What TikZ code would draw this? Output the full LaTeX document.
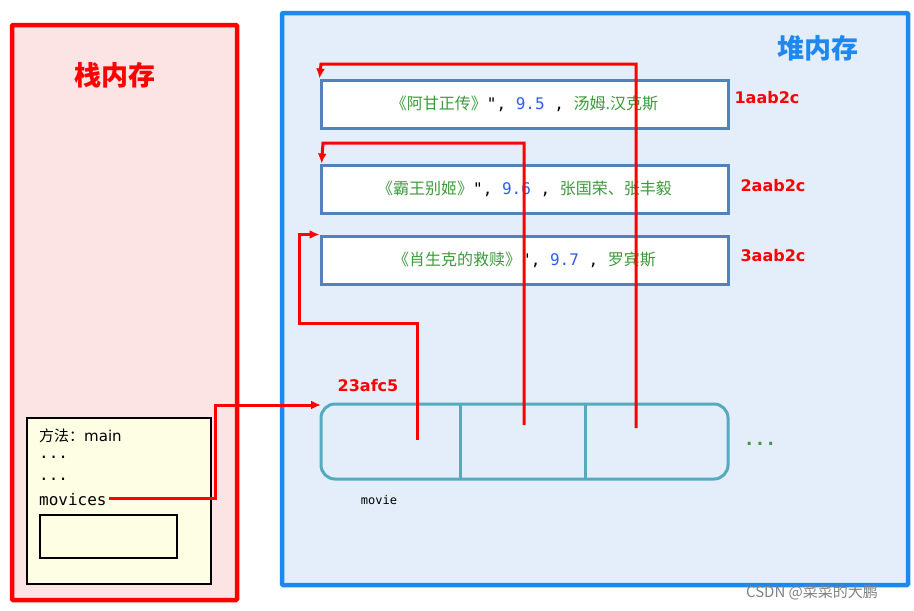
\documentclass[tikz,border=0pt]{standalone}
\usepackage{fontspec}
\setmainfont{DejaVu Sans}
\setmonofont{DejaVu Sans Mono}
\newfontfamily\cjk{Noto Sans CJK SC}
\usepackage{xcolor}
\usetikzlibrary{arrows.meta, positioning}
\definecolor{stackred}{HTML}{FF0000}
\definecolor{stackfill}{HTML}{FDE4E4}
\definecolor{heapblue}{HTML}{1E88F0}
\definecolor{heapfill}{HTML}{E3EEFA}
\definecolor{objblue}{HTML}{5282BC}
\definecolor{arrteal}{HTML}{55AAC0}
\definecolor{txtgreen}{HTML}{3C9A3C}
\definecolor{numblue}{HTML}{2F5CF0}
\definecolor{framefill}{HTML}{FEFEE4}
\tikzset{
    objbox/.style={draw=objblue, line width=3pt, fill=white, minimum width=407pt, minimum height=48pt, inner sep=0pt},
    addr/.style={text=stackred, font=\fontsize{16}{18}\selectfont\bfseries},
    ref/.style={draw=stackred, line width=3pt, -{Latex[length=10pt,width=9pt]}},
    cn/.style={font=\cjk\fontsize{16}{18}\selectfont},
}
\newcommand{\movtext}[3]{{\color{txtgreen}《#1》}\texttt{{\color{black}"},~{\color{numblue}#2}~,~}{\color{txtgreen}#3}}
\begin{document}
\begin{tikzpicture}[x=1pt, y=-1pt]
    \useasboundingbox (0,0) rectangle (914,611);
    % stack and heap areas
    \draw[stackred, line width=4.5pt, fill=stackfill, rounded corners=1pt] (12,25) rectangle (237,600);
    \draw[heapblue, line width=4.5pt, fill=heapfill, rounded corners=1pt] (282,13) rectangle (908,585);
    \node[text=stackred, font=\cjk\fontsize{27}{30}\selectfont\bfseries] (stacktitle) at (115,75) {栈内存};
    \node[text=heapblue, font=\cjk\fontsize{27}{30}\selectfont\bfseries] (heaptitle) at (818,48) {堆内存};

    % movie objects
    \node[objbox, cn] (m1) at (524.5,104) {\movtext{阿甘正传}{9.5}{汤姆.汉克斯}};
    \node[objbox, cn] (m2) at (524.5,189) {\movtext{霸王别姬}{9.6}{张国荣、张丰毅}};
    \node[objbox, cn] (m3) at (524.5,260) {\movtext{肖生克的救赎}{9.7}{罗宾斯}};
    \node[addr] (a1) at (767,98) {1aab2c};
    \node[addr] (a2) at (773,186) {2aab2c};
    \node[addr] (a3) at (773,256) {3aab2c};

    % array
    \draw[arrteal, line width=3pt, rounded corners=14pt] (321,404) rectangle (728,479);
    \draw[arrteal, line width=3pt] (460,404) -- (460,479);
    \draw[arrteal, line width=3pt] (585,404) -- (585,479);
    \coordinate (arr) at (321,405);
    \node[addr] (a0) at (368,386) {23afc5};
    \node[font=\ttfamily\fontsize{12}{14}\selectfont] (movie) at (379,500) {movie};
    \node[text=txtgreen, font=\ttfamily\fontsize{18}{18}\selectfont\bfseries] (more) at (760,444) {...};

    % method frame
    \draw[black, line width=1.5pt, fill=framefill] (27,418) rectangle (211,584);
    \draw[black, line width=1.5pt] (40,515) rectangle (177,558);
    \node[anchor=west, font=\fontsize{15}{17}\selectfont, inner sep=0pt] (meth) at (39,436) {{\cjk 方法：}main};
    \node[anchor=west, font=\ttfamily\fontsize{16}{17}\selectfont, inner sep=0pt] (d1) at (39,457) {...};
    \node[anchor=west, font=\ttfamily\fontsize{16}{17}\selectfont, inner sep=0pt] (d2) at (39,479) {...};
    \node[anchor=west, font=\ttfamily\fontsize{16}{17}\selectfont, inner sep=0pt] (var) at (39,500) {movices};

    % references
    \coordinate (e1) at (417,440);
    \coordinate (e2) at (524,425);
    \coordinate (e3) at (636,428);
    \draw[ref] ([xshift=2pt,yshift=2pt]var.east) -| (215,405) -- (arr);
    \draw[ref] (e1) |- (299,323) |- (m3.north west);
    \draw[ref] (e2) |- (323,143) -- ([xshift=2pt]m2.north west);
    \draw[ref] (e3) |- (321,64) -- (m1.north west);

    \node[text=gray, font=\cjk\fontsize{15}{17}\selectfont] (mark) at (812,592) {CSDN @菜菜的大鹏};
\end{tikzpicture}
\end{document}
